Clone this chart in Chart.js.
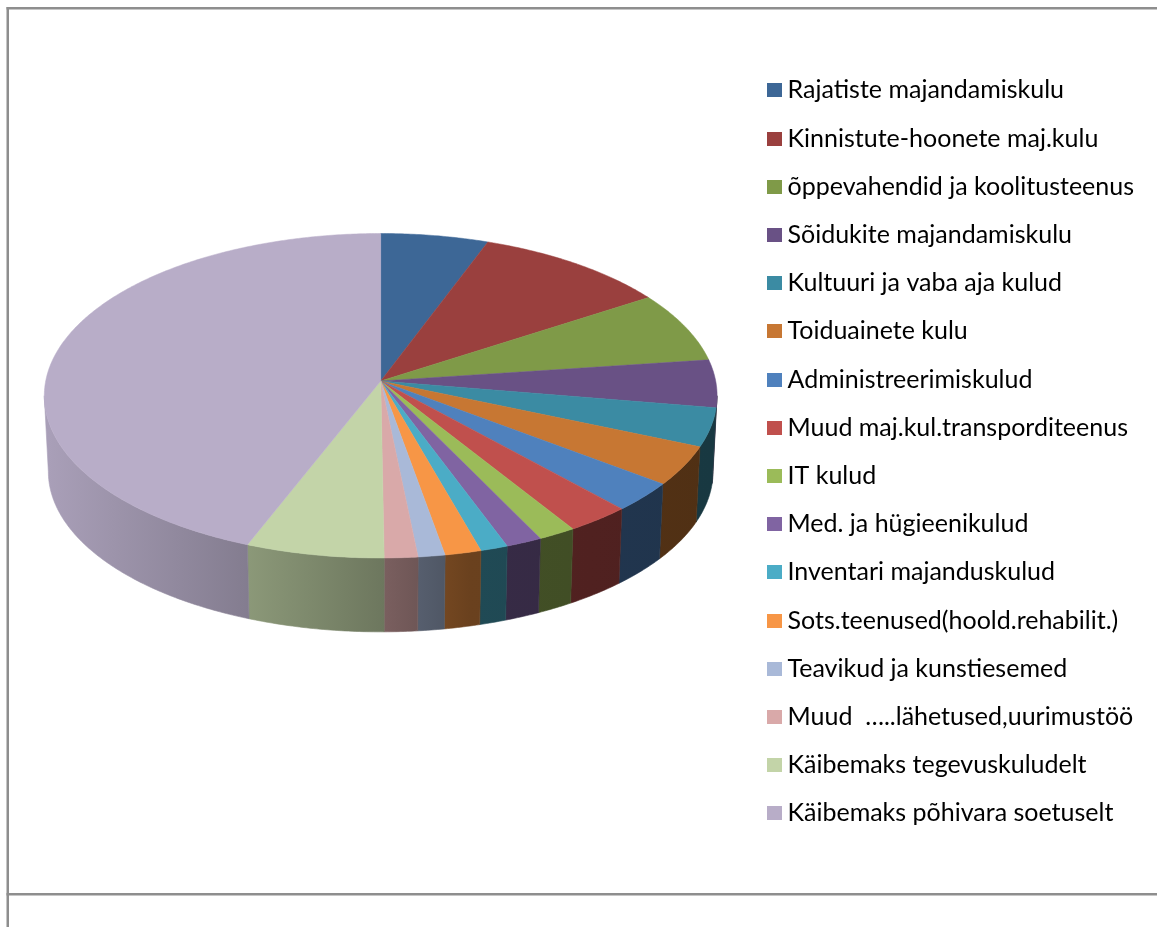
<!DOCTYPE html>
<html>
<head>
<meta charset="utf-8">
<style>
  html, body { margin: 0; padding: 0; background: #fff; }
  canvas { display: block; }
</style>
<script src="https://cdn.jsdelivr.net/npm/chart.js@4/dist/chart.umd.min.js"></script>
</head>
<body>
<canvas id="pie3d" width="1157" height="927"></canvas>
<script>
const categories = [
  'Rajatiste majandamiskulu', 'Kinnistute-hoonete maj.kulu', 'õppevahendid ja koolitusteenus',
  'Sõidukite majandamiskulu', 'Kultuuri ja vaba aja kulud', 'Toiduainete kulu',
  'Administreerimiskulud', 'Muud maj.kul.transporditeenus', 'IT kulud',
  'Med. ja hügieenikulud', 'Inventari majanduskulud', 'Sots.teenused(hoold.rehabilit.)',
  'Teavikud ja kunstiesemed', 'Muud  …..lähetused,uurimustöö', 'Käibemaks tegevuskuludelt',
  'Käibemaks põhivara soetuselt'
];
// shares, in percent
const shares = [5.64, 10.2, 7.03, 4.75, 3.83, 3.89, 2.94, 2.83, 1.67, 1.6, 1.21, 1.6, 1.18, 1.47, 6.08, 44.06];
const sliceColors = [
  '#3d6796', '#9a403e', '#7f9a48', '#695185', '#3b8ba3', '#c77733', '#4f81bd', '#c0504d',
  '#9bbb59', '#8064a2', '#4bacc6', '#f79646', '#a9b9d8', '#d9a9a9', '#c3d4a8', '#b8adc8'
];

// camera of the tilted disc: apex, half axes, perspective
const apexX = 380.7, apexY = 381, radiusX = 335, radiusY = 160.9, persp = 0.0909;
const wallDrop = 76, wallScale = 0.988;
// the wall lighting: [x, brightness]
const wallLight = [[48, 0.92], [245, 0.72], [384, 0.56], [470, 0.43], [713, 0.40]];

function project(angle, lower) {
  const u = Math.cos(angle), v = Math.sin(angle), w = 1 - persp * v;
  const k = lower ? wallScale : 1;
  return {
    x: apexX + k * radiusX * u / w,
    y: apexY + (lower ? wallDrop : 0) + k * radiusY * v / w
  };
}

function shade(hex, f) {
  const n = parseInt(hex.slice(1), 16);
  return `rgb(${Math.round((n >> 16) * f)},${Math.round(((n >> 8) & 255) * f)},${Math.round((n & 255) * f)})`;
}

function edgePoints(from, to, lower) {
  const pts = [], steps = Math.max(2, Math.ceil((to - from) / 0.01));
  for (let i = 0; i <= steps; i++) pts.push(project(from + (to - from) * i / steps, lower));
  return pts;
}

function swatch(color) {
  const c = document.createElement('canvas');
  c.width = 15; c.height = 14;
  const g = c.getContext('2d');
  g.fillStyle = color;
  g.fillRect(0, 0, 15, 14);
  return c;
}

const disc3d = {
  id: 'disc3d',
  beforeDraw(chart) {
    // paper and the frame lines round the chart
    const { ctx, width, height } = chart;
    ctx.save();
    ctx.fillStyle = '#fff';
    ctx.fillRect(0, 0, width, height);
    ctx.fillStyle = '#8e8e8e';
    ctx.fillRect(6.5, 7, 2.5, height - 7);
    ctx.fillRect(6.5, 7, width, 2.5);
    ctx.fillRect(6.5, 893, width, 2.5);
    ctx.restore();
  },
  beforeDatasetDraw(chart, args) {
    const ctx = chart.ctx;
    const arcs = args.meta.data;
    // only the part of the rim facing the viewer has a wall
    const wallFrom = Math.asin(persp), wallTo = Math.PI - Math.asin(persp);
    ctx.save();
    arcs.forEach((arc, i) => {
      const from = Math.max(arc.startAngle, wallFrom), to = Math.min(arc.endAngle, wallTo);
      if (to <= from) return;
      const top = edgePoints(from, to, false), bottom = edgePoints(from, to, true).reverse();
      const grad = ctx.createLinearGradient(wallLight[0][0], 0, wallLight[wallLight.length - 1][0], 0);
      wallLight.forEach(([x, f]) => {
        grad.addColorStop((x - wallLight[0][0]) / (wallLight[wallLight.length - 1][0] - wallLight[0][0]), shade(sliceColors[i], f));
      });
      ctx.beginPath();
      top.concat(bottom).forEach((p, n) => n ? ctx.lineTo(p.x, p.y) : ctx.moveTo(p.x, p.y));
      ctx.closePath();
      ctx.fillStyle = grad;
      ctx.strokeStyle = grad;
      ctx.lineWidth = 0.6;
      ctx.fill();
      ctx.stroke();
    });
    arcs.forEach((arc, i) => {
      ctx.beginPath();
      ctx.moveTo(apexX, apexY);
      edgePoints(arc.startAngle, arc.endAngle, false).forEach(p => ctx.lineTo(p.x, p.y));
      ctx.closePath();
      ctx.fillStyle = sliceColors[i];
      ctx.strokeStyle = sliceColors[i];
      ctx.lineWidth = 0.5;
      ctx.fill();
      ctx.stroke();
    });
    ctx.restore();
    return false;
  }
};

new Chart(document.getElementById('pie3d'), {
  type: 'pie',
  data: {
    labels: categories,
    datasets: [{ data: shares, backgroundColor: sliceColors, borderWidth: 0 }]
  },
  plugins: [disc3d],
  options: {
    responsive: false,
    animation: false,
    layout: { padding: { left: 43, top: 54.6, right: 13, bottom: 0 } },
    plugins: {
      tooltip: { enabled: false },
      legend: {
        position: 'right',
        align: 'start',
        labels: {
          font: { family: 'Lato', size: 25 },
          color: '#262626',
          usePointStyle: true,
          pointStyleWidth: 2,
          boxHeight: 14,
          padding: 23.2,
          generateLabels: () => categories.map((text, i) => ({
            text, fillStyle: sliceColors[i], strokeStyle: sliceColors[i], lineWidth: 0,
            pointStyle: swatch(sliceColors[i]), index: i
          }))
        }
      }
    }
  }
});
</script>
</body>
</html>
